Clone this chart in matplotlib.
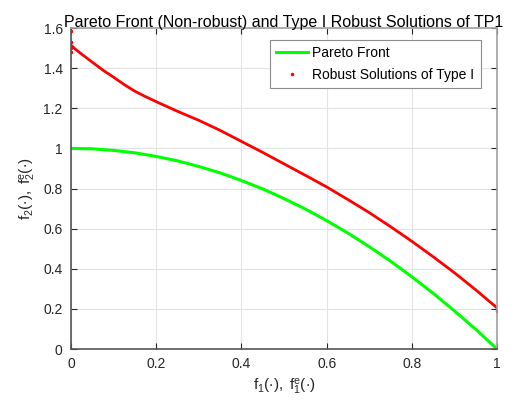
import matplotlib
matplotlib.use('Agg')
import matplotlib.pyplot as plt
from matplotlib.lines import Line2D

plt.rcParams['font.family'] = ['Liberation Sans', 'DejaVu Sans']
plt.rcParams['mathtext.fontset'] = 'custom'
plt.rcParams['mathtext.rm'] = 'Liberation Sans'
plt.rcParams['mathtext.it'] = 'Liberation Sans'

# Pareto front (non-robust)
pf_f1 = [0.0, 0.05, 0.1, 0.15, 0.2, 0.25, 0.3, 0.35, 0.4, 0.45, 0.5,
         0.55, 0.6, 0.65, 0.7, 0.75, 0.8, 0.85, 0.9, 0.95, 1.0]
pf_f2 = [1.0, 0.998, 0.99, 0.978, 0.96, 0.938, 0.91, 0.878, 0.84, 0.798, 0.75,
         0.698, 0.64, 0.578, 0.51, 0.438, 0.36, 0.278, 0.19, 0.098, 0.0]

# Robust solutions of type I
rob_f1 = [0.0, 0.01, 0.025, 0.05, 0.075, 0.1, 0.125, 0.15, 0.175, 0.2, 0.25, 0.3,
          0.35, 0.4, 0.45, 0.5, 0.55, 0.6, 0.65, 0.7, 0.75, 0.8, 0.85, 0.9, 0.95, 1.0]
rob_f2 = [1.515, 1.495, 1.47, 1.43, 1.39, 1.355, 1.318, 1.285, 1.258, 1.233, 1.185, 1.14,
          1.09, 1.035, 0.98, 0.923, 0.866, 0.808, 0.745, 0.68, 0.61, 0.537, 0.46, 0.38,
          0.295, 0.205]
# scattered points at the ends
end_f1 = [0.0, 0.0, 0.0, 0.0, 1.0]
end_f2 = [1.48, 1.50, 1.53, 1.585, 0.19]

fig = plt.figure(figsize=(5.21, 4.08), dpi=100)
ax = fig.add_axes([0.1363, 0.1446, 0.8177, 0.7866])

ax.plot(pf_f1, pf_f2, color=(0, 1, 0), lw=2.2)
ax.plot(rob_f1, rob_f2, color='red', lw=2.0)
ax.plot(end_f1, end_f2, '.', color='red', ms=3)

ax.set_xlim(0, 1)
ax.set_ylim(0, 1.6)
ax.set_xticks([0, 0.2, 0.4, 0.6, 0.8, 1])
ax.set_xticklabels(['0', '0.2', '0.4', '0.6', '0.8', '1'])
ax.set_yticks([0, 0.2, 0.4, 0.6, 0.8, 1, 1.2, 1.4, 1.6])
ax.set_yticklabels(['0', '0.2', '0.4', '0.6', '0.8', '1', '1.2', '1.4', '1.6'])
ax.grid(True, color='#e3e3e3', lw=0.8)
ax.set_axisbelow(True)
ax.tick_params(direction='in', top=True, right=True, length=4, labelsize=10,
               colors='#262626', pad=6)
for side in ['left', 'bottom']:
    ax.spines[side].set_color('#555555')
for side in ['top', 'right']:
    ax.spines[side].set_color('#a0a0a0')
for s in ax.spines.values():
    s.set_linewidth(1.2)

ax.set_title('Pareto Front (Non-robust) and Type I Robust Solutions of TP1',
             fontsize=11.5, pad=1)
ax.set_xlabel(r'$\mathregular{f_1(\cdot),\ f_1^e(\cdot)}$', fontsize=11, color='#262626')
ax.set_ylabel(r'$\mathregular{f_2(\cdot),\ f_2^e(\cdot)}$', fontsize=11, color='#262626')

handles = [Line2D([], [], color=(0, 1, 0), lw=2.2),
           Line2D([], [], color='red', marker='.', ms=3, ls='none')]
leg = ax.legend(handles, ['Pareto Front', 'Robust Solutions of Type I'],
                loc='upper right', bbox_to_anchor=(0.978, 0.985), fontsize=10,
                fancybox=False, framealpha=1, edgecolor='#8c8c8c',
                handlelength=2.3, handletextpad=0.3, borderpad=0.45, labelspacing=0.55)
leg.get_frame().set_linewidth(0.8)

fig.savefig('out.png', dpi=100)
